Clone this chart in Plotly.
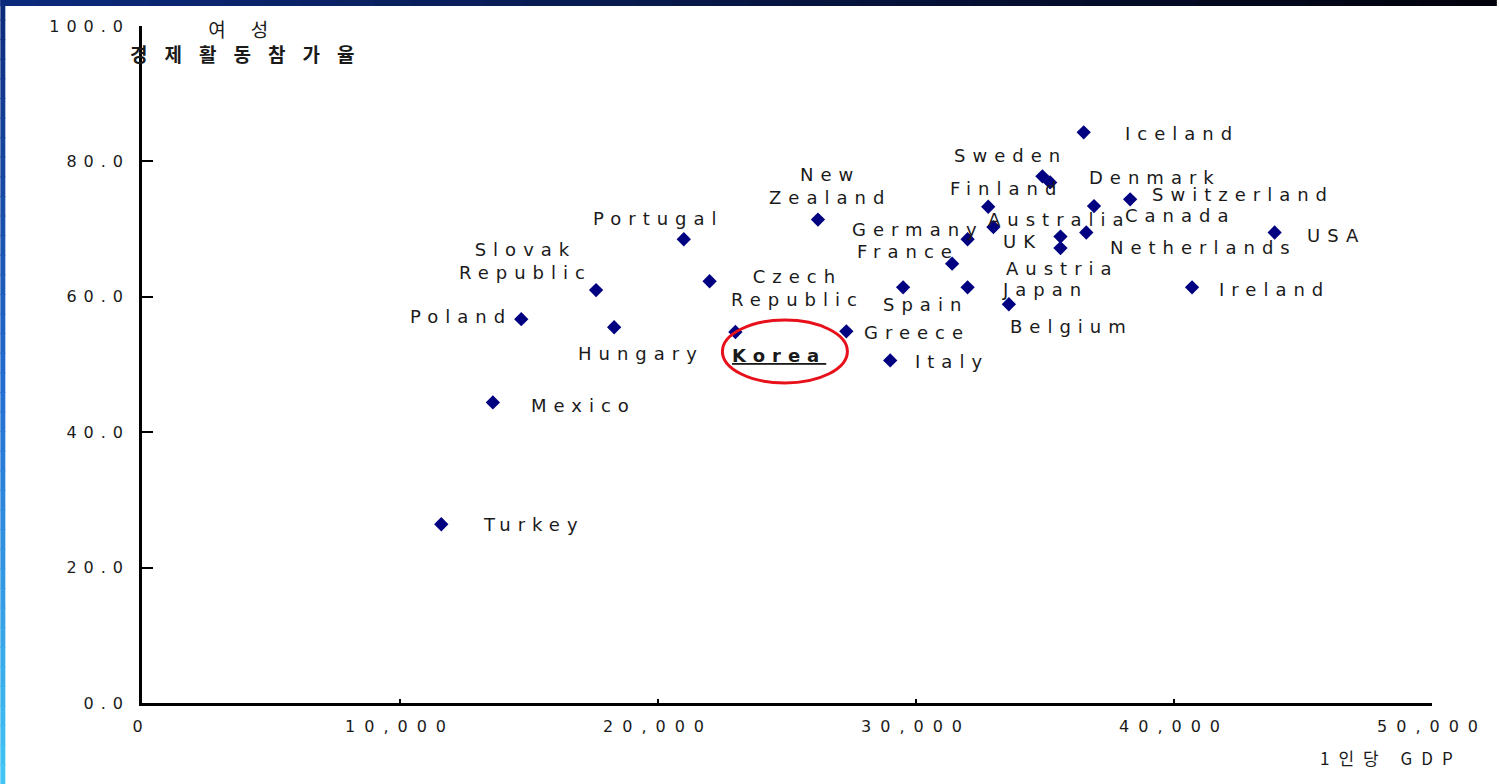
import plotly.graph_objects as go

# ---------------- data ----------------
countries = ["Iceland", "Sweden", "Denmark", "Finland", "Switzerland", "Canada",
             "Australia", "Germany", "UK", "Netherlands", "Austria", "France",
             "Japan", "Spain", "Belgium", "Ireland", "USA", "New Zealand",
             "Portugal", "Czech Republic", "Slovak Republic", "Poland", "Hungary",
             "Korea", "Greece", "Italy", "Mexico", "Turkey"]
gdp_per_capita = [36500, 34900, 35200, 32800, 38300, 36900,
                  33000, 32000, 35600, 36600, 35600, 31400,
                  32000, 29500, 33600, 40700, 43900, 26200,
                  21000, 22000, 17600, 14700, 18300,
                  23000, 27300, 29000, 13600, 11600]
female_participation = [84.3, 77.8, 76.9, 73.3, 74.4, 73.4,
                        70.3, 68.5, 68.9, 69.5, 67.2, 64.9,
                        61.4, 61.4, 58.9, 61.4, 69.5, 71.4,
                        68.5, 62.3, 61.0, 56.7, 55.5,
                        54.8, 54.9, 50.6, 44.4, 26.4]
label_text = {"New Zealand": "New<br>Zealand",
              "Czech Republic": "Czech<br>Republic",
              "Slovak Republic": "Slovak<br>Republic"}

x_tickvals = [0, 10000, 20000, 30000, 40000, 50000]
x_ticktext = ["0", "10,000", "20,000", "30,000", "40,000", "50,000"]
y_tickvals = [0, 20, 40, 60, 80, 100]
y_ticktext = ["0.0", "20.0", "40.0", "60.0", "80.0", "100.0"]

y_title_lines = ["여성", "경제활동참가율"]
x_title = "1인당 GDP"
highlight = "Korea"

# ---------------- label placement (pixel offsets of label centre from marker) ----------------
label_offsets = {
    "Iceland": (95, 1), "Sweden": (-35, -21), "Denmark": (101, -5),
    "Finland": (15, -18), "Switzerland": (109, -5), "Canada": (83, 9),
    "Australia": (63, -8), "Germany": (-53, -10), "UK": (-41, 5),
    "Netherlands": (114, 15), "Austria": (-1, 20), "France": (-48, -12),
    "Japan": (74, 2), "Spain": (19, 17), "Belgium": (59, 22),
    "Ireland": (79, 2), "USA": (58, 3), "New Zealand": (9, -34),
    "Portugal": (-29, -21), "Czech Republic": (84, 7),
    "Slovak Republic": (-74, -29), "Poland": (-64, -3), "Hungary": (23, 26),
    "Korea": (40, 23), "Greece": (67, 1), "Italy": (58, 1),
    "Mexico": (87, 3), "Turkey": (89, 0),
}

LS = 7  # letter spacing of labels
LFONT = "DejaVu Sans"


def spaced(txt, ls):
    return "<br>".join(
        f"<span style='letter-spacing:{ls}px'>{line}</span>" for line in txt.split("<br>"))


fig = go.Figure()
fig.add_trace(go.Scatter(
    x=gdp_per_capita, y=female_participation, mode="markers",
    marker=dict(symbol="diamond", size=11, color="#000080", line=dict(width=0)),
    hoverinfo="skip", showlegend=False))

annotations = []
for c, gx, fy in zip(countries, gdp_per_capita, female_participation):
    dx, dy = label_offsets[c]
    txt = label_text.get(c, c)
    if c == highlight:
        txt = f"<b><u>{txt}</u></b>"
    annotations.append(dict(
        x=gx, y=fy, xref="x", yref="y", text=spaced(txt, LS), showarrow=False,
        xanchor="center", yanchor="middle", xshift=dx + LS / 2, yshift=-dy,
        font=dict(family=LFONT, size=18, color="#1a1a1a")))

# axis titles
annotations.append(dict(
    x=0.0749, y=0.9756, xref="paper", yref="paper",
    text=spaced(y_title_lines[0], 25) + "<br><b>" + spaced(y_title_lines[1], 17) + "</b>",
    showarrow=False, xanchor="center", yanchor="middle", xshift=12, yshift=2,
    font=dict(family="Noto Sans CJK KR", size=19, color="#1a1a1a")))
annotations.append(dict(
    x=0.965, y=-0.0798, xref="paper", yref="paper", text=spaced(x_title, 9),
    showarrow=False, xanchor="center", yanchor="middle", xshift=4,
    font=dict(family="Noto Sans CJK KR", size=17, color="#1a1a1a")))

shapes = []
# red ellipse around the highlighted country
hi = countries.index(highlight)
shapes.append(dict(
    type="circle", xref="x", yref="y", xsizemode="pixel", ysizemode="pixel",
    xanchor=gdp_per_capita[hi], yanchor=female_participation[hi],
    x0=-13, x1=112, y0=-51, y1=12, line=dict(color="#e8101a", width=3)))

# slide frame (gradient bars at top and left)
PW, PH, ML, MT = 1293, 677, 142, 26


def lerp(c1, c2, t):
    return "rgb({},{},{})".format(*[round(a + (b - a) * t) for a, b in zip(c1, c2)])


steps = 40
for i in range(steps):
    t = i / (steps - 1)
    shapes.append(dict(
        type="rect", xref="paper", yref="paper", layer="above",
        x0=(-ML + i * 1499 / steps) / PW, x1=(-ML + (i + 1) * 1499 / steps + 1) / PW,
        y0=(PH + MT - 6) / PH, y1=(PH + MT) / PH,
        fillcolor=lerp((12, 42, 124), (2, 2, 12), t), line=dict(width=0)))
for i in range(steps):
    t = i / (steps - 1)
    if t < 0.5:
        col = lerp((12, 42, 124), (36, 110, 210), t / 0.5)
    else:
        col = lerp((36, 110, 210), (66, 196, 244), (t - 0.5) / 0.5)
    shapes.append(dict(
        type="rect", xref="paper", yref="paper", layer="above",
        x0=-ML / PW, x1=(-ML + 5) / PW,
        y0=(PH + MT - (i + 1) * 784 / steps - 1) / PH, y1=(PH + MT - i * 784 / steps) / PH,
        fillcolor=col, line=dict(width=0)))

xtickfont = dict(family="DejaVu Sans", size=16, color="#1a1a1a")
ytickfont = dict(family="DejaVu Sans", size=16, color="#1a1a1a")
fig.update_layout(
    width=1499, height=784,
    margin=dict(l=ML, r=64, t=MT, b=81),
    paper_bgcolor="white", plot_bgcolor="white",
    annotations=annotations, shapes=shapes,
    xaxis=dict(range=[0, 50000], tickvals=x_tickvals,
               ticktext=[spaced(t, 9) for t in x_ticktext],
               showgrid=False, zeroline=False, showline=True, linecolor="black",
               linewidth=2.5, ticks="inside", ticklen=4, tickwidth=1.5, tickcolor="black",
               tickfont=xtickfont, ticklabelstandoff=7, fixedrange=True),
    yaxis=dict(range=[0, 100], tickvals=y_tickvals,
               ticktext=[spaced(t, 7) for t in y_ticktext],
               showgrid=False, zeroline=False, showline=True, linecolor="black",
               linewidth=2.5, ticks="inside", ticklen=11, tickwidth=1.5, tickcolor="black",
               tickfont=ytickfont, ticklabelstandoff=6, fixedrange=True),
)

fig.write_html("out.html", config={"displayModeBar": False},
               post_script="document.body.style.margin='0';")
